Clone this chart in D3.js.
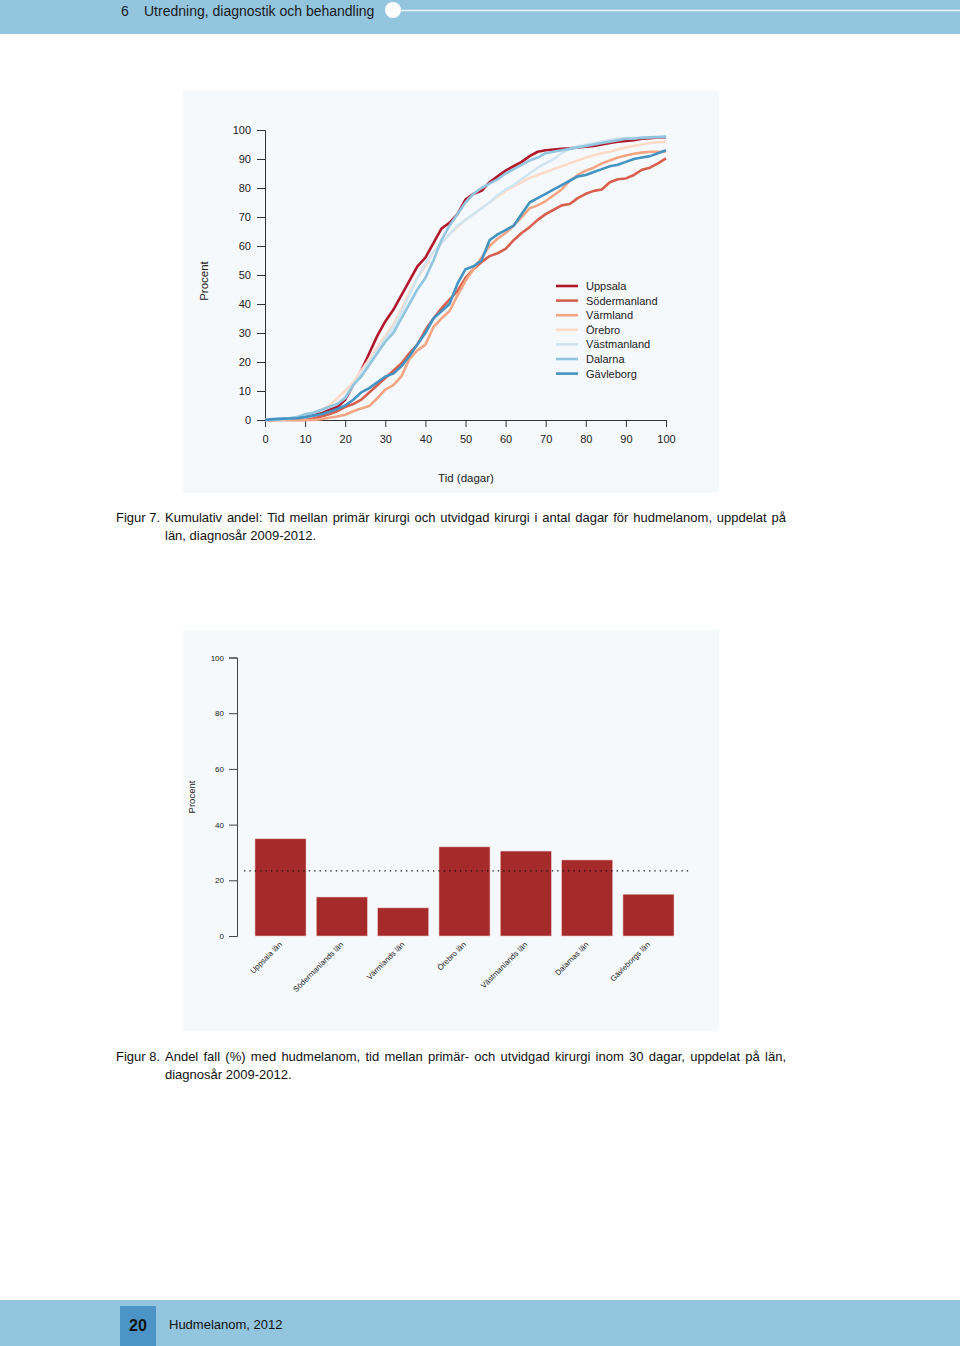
<!DOCTYPE html>
<html><head><meta charset="utf-8">
<script src="https://cdnjs.cloudflare.com/ajax/libs/d3/7.8.5/d3.min.js"></script>
<style>
html,body{margin:0;padding:0;background:#fff;}
svg{display:block;}
</style></head>
<body>
<script>
// ---------- DATA ----------
const days = d3.range(0, 101, 2);
const seriesNames = ["Uppsala","Södermanland","Värmland","Örebro","Västmanland","Dalarna","Gävleborg"];
const seriesColors = ["#B2182B","#D6604D","#F4A582","#FDDBC7","#D1E5F0","#92C5DE","#4393C3"];
const uppsala = [0,0,0.2,0.3,0.5,1.2,2,2.5,3.5,4.5,7,12,17,23,29,34,38,43,48,53,56,61,66,68,71,76,78,79,82,84,86,87.5,89,91,92.5,93,93.3,93.5,93.7,94,94.2,94.5,95,95.5,96,96.2,96.5,97,97.2,97.4,97.5];
const sodermanland = [0,0,0,0,0,0,0.5,1.2,2,3,4.5,5.5,7,9.5,12,14.5,17,19.5,23,26,31,35,38.5,41.5,44.5,49,52,54.5,56.5,57.5,59,62,64.5,66.5,69,71,72.5,74,74.5,76.5,78,79,79.5,82,83,83.3,84.5,86.3,87,88.5,90.2];
const varmland = [0,0,0,0,0,0,0,0.3,0.8,1.2,1.8,3,4,4.8,7.5,10.5,12,15,21,24,26,32,35,37.5,43,48,52,56,60,62.5,64.5,67,70,73,74,75.5,77.5,79.5,82.5,84.5,86,87,88.5,89.5,90.5,91.2,91.8,92.2,92.5,92.5,92.5];
const orebro = [0,0,0.2,0.4,1,1.5,2.5,3.5,5,7.5,10,13,17,21,25,29,33,38,44,49,53,58,61,64,66.5,69,71,73,75,77,79,80.5,82,83.5,84.5,85.5,86.5,87.5,88.5,89.5,90.5,91.3,92,92.5,93.3,94,94.5,95,95.5,95.8,96];
const vastmanland = [0,0.1,0.3,0.5,1,1.8,2.5,3.2,4.5,5.5,8,12,16,20,24,28,32,37,43,49,54,58,61,64,67,69,71,73,75,77.5,79.5,81,83,85,87,88.5,90,92,93.5,94.5,95,95.5,96,96.5,97,97.2,97.3,97.4,97.5,97.6,97.7];
const dalarna = [0,0.2,0.4,0.6,1,2,2.5,3.5,4.5,5.5,7.5,12,15,19,23,27,30,35,40,45,49,55,62,67,71,75,78,80,81.5,83,85,86.5,88,89.5,90.5,92,92.5,93,93.5,94,94.5,95,95.5,96,96.5,97,97,97.3,97.5,97.6,97.7];
const gavleborg = [0,0.3,0.4,0.5,0.6,1,1.5,2,2.8,3.8,5,7,9.5,11,13,15,16,18.5,22,26,30,35,37.5,40,47,52,53,55,62,64,65.5,67,71,75,76.5,78,79.5,81,82.5,84,84.5,85.5,86.5,87.5,88,89,90,90.5,91,92,93];
const seriesValues = [uppsala, sodermanland, varmland, orebro, vastmanland, dalarna, gavleborg];
const lineXTicks = [0,10,20,30,40,50,60,70,80,90,100];
const lineYTicks = [0,10,20,30,40,50,60,70,80,90,100];

const barCategories = ["Uppsala län","Södermanlands län","Värmlands län","Örebro län","Västmanlands län","Dalarnas län","Gävleborgs län"];
const barValues = [34.9, 14.0, 10.1, 32.0, 30.5, 27.3, 15.0];
const barReference = 23.4;
const barYTicks = [0,20,40,60,80,100];

// ---------- SVG ----------
const W = 960, H = 1346;
const svg = d3.select("body").append("svg").attr("width", W).attr("height", H);
const FONT = "'Liberation Sans', Arial, Helvetica, sans-serif";

// Header band
svg.append("rect").attr("x",0).attr("y",0).attr("width",W).attr("height",34).attr("fill","#93C5DF");
svg.append("line").attr("x1",393).attr("x2",W).attr("y1",10.5).attr("y2",10.5).attr("stroke","#fff").attr("stroke-width",1.6).attr("opacity",0.85);
svg.append("circle").attr("cx",393).attr("cy",10).attr("r",8).attr("fill","#fff");
svg.append("text").attr("x",121).attr("y",16).attr("font-family",FONT).attr("font-size",14).attr("fill","#1a1a1a").text("6");
svg.append("text").attr("x",144).attr("y",16).attr("font-family",FONT).attr("font-size",14).attr("fill","#1a1a1a").text("Utredning, diagnostik och behandling");

// Footer
svg.append("rect").attr("x",0).attr("y",1300).attr("width",W).attr("height",46).attr("fill","#93C5DF");
svg.append("rect").attr("x",120).attr("y",1306).attr("width",36).attr("height",40).attr("fill","#4D94C6");
svg.append("text").attr("x",138).attr("y",1331).attr("text-anchor","middle").attr("font-family",FONT).attr("font-weight","bold").attr("font-size",16).attr("fill","#111").text("20");
svg.append("text").attr("x",169).attr("y",1329).attr("font-family",FONT).attr("font-size",13).attr("fill","#111").text("Hudmelanom, 2012");

// ---------- Line chart ----------
svg.append("rect").attr("x",183).attr("y",90).attr("width",536).attr("height",403).attr("fill","#F6F9FC");
const lx = d3.scaleLinear().domain([0,100]).range([265,666]);
const ly = d3.scaleLinear().domain([0,100]).range([420,130]);
const g1 = svg.append("g").attr("font-family",FONT);

const xAxis = d3.axisBottom(lx).tickValues(lineXTicks).tickSize(7).tickPadding(8);
g1.append("g").attr("transform","translate(0,420)").call(xAxis)
  .call(s=>{s.select(".domain").attr("stroke","#333");s.selectAll("line").attr("stroke","#333");
    s.selectAll("text").attr("font-size",11).attr("font-family",FONT).attr("fill","#222");});
const yAxis = d3.axisLeft(ly).tickValues(lineYTicks).tickSize(8).tickPadding(6);
g1.append("g").attr("transform","translate(265,0)").call(yAxis)
  .call(s=>{s.select(".domain").attr("stroke","#333");s.selectAll("line").attr("stroke","#333");
    s.selectAll("text").attr("font-size",11).attr("font-family",FONT).attr("fill","#222");});
g1.append("text").attr("x",466).attr("y",482).attr("text-anchor","middle").attr("font-size",11.5).attr("fill","#222").text("Tid (dagar)");
g1.append("text").attr("transform","translate(208,281) rotate(-90)").attr("text-anchor","middle").attr("font-size",11.5).attr("fill","#222").text("Procent");

const line = d3.line().x((d,i)=>lx(days[i])).y(d=>ly(d));
seriesValues.forEach((vals,k)=>{
  g1.append("path").datum(vals).attr("d",line).attr("fill","none")
    .attr("stroke",seriesColors[k]).attr("stroke-width",2.6).attr("stroke-linejoin","round");
});
// Legend
seriesNames.forEach((n,k)=>{
  const y = 286 + k*14.6;
  g1.append("line").attr("x1",556).attr("x2",578).attr("y1",y).attr("y2",y).attr("stroke",seriesColors[k]).attr("stroke-width",2.6);
  g1.append("text").attr("x",586).attr("y",y+4).attr("font-size",11).attr("fill","#222").text(n);
});

// ---------- Bar chart ----------
svg.append("rect").attr("x",183).attr("y",630).attr("width",536).attr("height",401).attr("fill","#F6F9FC");
const bx = d3.scaleBand().domain(barCategories).range([249.85,679.15]).paddingInner(0.168).paddingOuter(0.084);
const by = d3.scaleLinear().domain([0,100]).range([936,657.5]);
const g2 = svg.append("g").attr("font-family",FONT);
const byAxis = d3.axisLeft(by).tickValues(barYTicks).tickSize(8).tickPadding(5);
g2.append("g").attr("transform","translate(237,0)").call(byAxis)
  .call(s=>{s.select(".domain").attr("stroke","#444");s.selectAll("line").attr("stroke","#444");
    s.selectAll("text").attr("font-size",8).attr("font-family",FONT).attr("fill","#222");});
g2.append("text").attr("transform","translate(195,797) rotate(-90)").attr("text-anchor","middle").attr("font-size",9.5).attr("fill","#222").text("Procent");
g2.selectAll("rect.bar").data(barValues).enter().append("rect").attr("class","bar")
  .attr("x",(d,i)=>bx(barCategories[i])).attr("width",bx.bandwidth())
  .attr("y",d=>by(d)).attr("height",d=>by(0)-by(d))
  .attr("fill","#A52A2A").attr("stroke","#E9C0C0").attr("stroke-width",0.6);
g2.append("line").attr("x1",244).attr("x2",691).attr("y1",by(barReference)).attr("y2",by(barReference))
  .attr("stroke","#111").attr("stroke-width",1.3).attr("stroke-dasharray","1.3,4.1");
barCategories.forEach((c,i)=>{
  const cx = bx(c)+bx.bandwidth()/2 + 2;
  g2.append("text").attr("transform",`translate(${cx},945) rotate(-45)`).attr("text-anchor","end")
    .attr("font-size",7.8).attr("fill","#222").text(c);
});

// ---------- Captions ----------
const cap = svg.append("g").attr("font-family",FONT).attr("font-size",13).attr("fill","#111");
function justify(text, x0, x1, y){
  const words = text.split(" ");
  const nodes = words.map(w=>cap.append("text").attr("y",y).text(w));
  const widths = nodes.map(n=>n.node().getComputedTextLength());
  const total = d3.sum(widths);
  const gap = (x1-x0-total)/(words.length-1);
  let x = x0;
  nodes.forEach((n,i)=>{n.attr("x",x); x += widths[i]+gap;});
}
cap.append("text").attr("x",116).attr("y",522).text("Figur 7.");
justify("Kumulativ andel: Tid mellan primär kirurgi och utvidgad kirurgi i antal dagar för hudmelanom, uppdelat på",165,786,522);
cap.append("text").attr("x",165).attr("y",540).text("län, diagnosår 2009-2012.");
cap.append("text").attr("x",116).attr("y",1061).text("Figur 8.");
justify("Andel fall (%) med hudmelanom, tid mellan primär- och utvidgad kirurgi inom 30 dagar, uppdelat på län,",165,786,1061);
cap.append("text").attr("x",165).attr("y",1079).text("diagnosår 2009-2012.");
</script>
</body></html>
